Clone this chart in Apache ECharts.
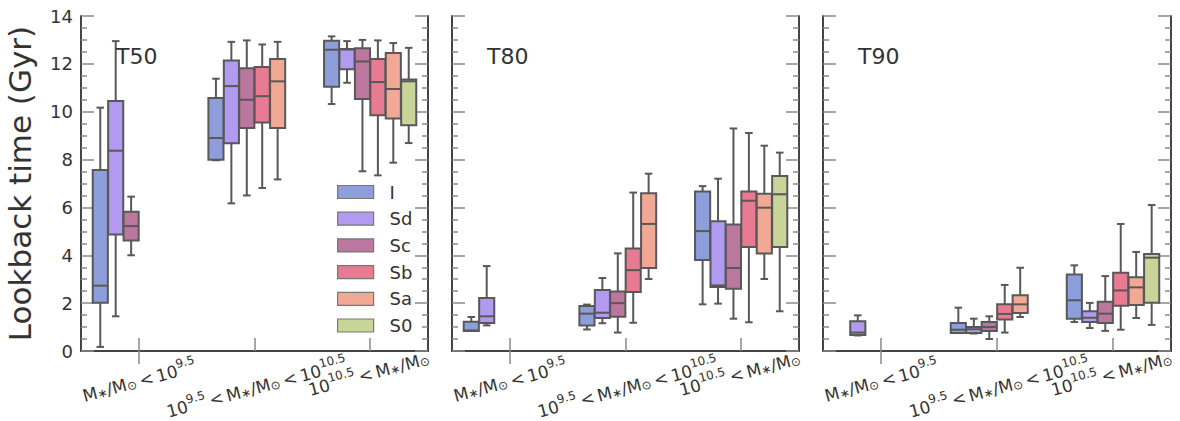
<!DOCTYPE html>
<html><head><meta charset="utf-8">
<script src="https://cdn.jsdelivr.net/npm/echarts@6/dist/echarts.min.js"></script>
<style>html,body{margin:0;padding:0;background:#fff}#c{width:1180px;height:421px}</style>
</head><body><div id="c"></div>
<script>
// ---- data ----
const categories = ['M*/Msun < 10^9.5', '10^9.5 < M*/Msun < 10^10.5', '10^10.5 < M*/Msun'];
const seriesNames = ['I', 'Sd', 'Sc', 'Sb', 'Sa', 'S0'];
const seriesColors = ['#8e9edb', '#b19af0', '#bb779e', '#e87a91', '#f1a894', '#c8d498'];
const panelTitles = ['T50', 'T80', 'T90'];
const yTicks = [0, 2, 4, 6, 8, 10, 12, 14];
// each box: [low whisker, Q1, median, Q3, high whisker]; null = no box
const T50_I  = [[0.17, 2.02, 2.73, 7.56, 10.17], [7.97, 7.99, 8.9, 10.57, 11.38], [10.32, 11.04, 12.59, 12.97, 13.15]];
const T50_Sd = [[1.45, 4.87, 8.37, 10.45, 12.95], [6.17, 8.68, 11.07, 12.14, 12.92], [11.21, 11.77, 12.6, 12.62, 12.95]];
const T50_Sc = [[4.0, 4.62, 5.22, 5.82, 6.45], [6.5, 9.32, 10.5, 11.82, 12.98], [7.51, 10.53, 12.1, 12.65, 13.0]];
const T50_Sb = [null, [6.81, 9.55, 10.65, 11.87, 12.81], [7.34, 9.85, 11.24, 12.2, 12.98]];
const T50_Sa = [null, [7.17, 9.32, 11.27, 12.2, 12.92], [7.87, 9.72, 10.95, 12.45, 12.87]];
const T50_S0 = [null, null, [8.69, 9.43, 11.27, 11.35, 12.67]];

const T80_I  = [[0.84, 0.84, 0.86, 1.22, 1.42], [0.9, 1.07, 1.56, 1.88, 1.94], [1.95, 3.8, 5.01, 6.67, 6.89]];
const T80_Sd = [[1.07, 1.17, 1.45, 2.21, 3.55], [1.16, 1.38, 1.6, 2.55, 3.05], [1.98, 2.67, 2.74, 5.42, 7.2]];
const T80_Sc = [null, [0.77, 1.43, 2.0, 2.49, 4.08], [1.35, 2.6, 3.47, 5.29, 9.3]];
const T80_Sb = [null, [1.18, 2.47, 3.38, 4.28, 6.62], [1.2, 4.35, 6.28, 6.67, 9.11]];
const T80_Sa = [null, [3.01, 3.47, 5.31, 6.59, 7.41], [3.01, 4.07, 5.99, 6.57, 8.58]];
const T80_S0 = [null, null, [1.66, 4.35, 6.55, 7.31, 8.29]];

const T90_I  = [null, [0.75, 0.75, 0.89, 1.17, 1.81], [1.21, 1.35, 2.12, 3.2, 3.58]];
const T90_Sd = [[0.65, 0.67, 0.77, 1.24, 1.49], [0.73, 0.75, 0.91, 1.0, 1.35], [0.96, 1.21, 1.39, 1.66, 2.01]];
const T90_Sc = [null, [0.5, 0.84, 1.0, 1.21, 1.45], [0.84, 1.17, 1.56, 2.06, 3.13]];
const T90_Sb = [null, [0.77, 1.32, 1.55, 1.95, 2.76], [0.89, 1.89, 2.53, 3.27, 5.31]];
const T90_Sa = [null, [1.42, 1.59, 1.95, 2.33, 3.48], [1.38, 1.92, 2.66, 3.08, 4.14]];
const T90_S0 = [null, null, [1.09, 2.02, 3.9, 4.05, 6.1]];

const panelData = [
  [T50_I, T50_Sd, T50_Sc, T50_Sb, T50_Sa, T50_S0],
  [T80_I, T80_Sd, T80_Sc, T80_Sb, T80_Sa, T80_S0],
  [T90_I, T90_Sd, T90_Sc, T90_Sb, T90_Sa, T90_S0]
];

// ---- layout / style ----
const FONT = 'DejaVu Sans';
const gridLefts = [81, 452, 823];
const gridWidths = [347, 347, 348];
const EDGE = '#585858';
const SPINE = '#444444';
const TICK = '#8a8a8a';
const TXT = '#333333';

const richLabels = [
  '{m|M}{s|∗}{m|/M}{s|⊙}{m|\u2009<\u200910}{p|9.5}',
  '{e| }\n{m|10}{p|9.5}{m|\u2009<\u2009M}{s|∗}{m|/M}{s|⊙}{m|\u2009<\u200910}{p|10.5}',
  '{m|10}{p|10.5}{m|\u2009<\u2009M}{s|∗}{m|/M}{s|⊙}\n{f| }'
];
const labelRich = {
  m: {fontSize: 17, fontFamily: FONT, color: TXT, lineHeight: 21, verticalAlign: 'bottom'},
  s: {fontSize: 12, fontFamily: FONT, color: TXT, lineHeight: 12, verticalAlign: 'bottom'},
  p: {fontSize: 12, fontFamily: FONT, color: TXT, lineHeight: 12, verticalAlign: 'top'},
  e: {fontSize: 8, lineHeight: 14},
  f: {fontSize: 8, lineHeight: 14}
};

const grids = [], xAxes = [], yAxes = [], series = [], titles = [];
for (let p = 0; p < 3; p++) {
  grids.push({left: gridLefts[p], width: gridWidths[p], top: 16, bottom: 70, containLabel: false, outerBoundsMode: 'none'});
  titles.push({text: panelTitles[p], left: gridLefts[p] + 35, top: 45, padding: 0,
    textStyle: {fontSize: 22, fontWeight: 'normal', color: TXT, fontFamily: FONT}});
  xAxes.push({
    gridIndex: p, type: 'category', data: categories, position: 'bottom',
    axisLine: {show: true, lineStyle: {color: SPINE, width: 2}},
    axisTick: {show: true, inside: true, alignWithLabel: true, length: 13, lineStyle: {color: TICK, width: 1.5}},
    axisLabel: {interval: 0, rotate: 15, align: 'center', verticalAlign: 'middle', margin: 28,
      formatter: (v, i) => richLabels[i], rich: labelRich},
    splitLine: {show: false}
  });
  xAxes.push({
    gridIndex: p, type: 'category', data: categories, position: 'top',
    axisLine: {show: true, lineStyle: {color: SPINE, width: 2}},
    axisTick: {show: true, inside: true, alignWithLabel: true, length: 13, lineStyle: {color: TICK, width: 1.5}},
    axisLabel: {show: false}, splitLine: {show: false}
  });
  const yBase = {
    gridIndex: p, type: 'value', min: yTicks[0], max: yTicks[yTicks.length - 1], interval: 2,
    axisLine: {show: true, lineStyle: {color: SPINE, width: 2}},
    axisTick: {show: true, inside: true, length: 13, lineStyle: {color: TICK, width: 1.5}},
    minorTick: {show: true, splitNumber: 4, length: 6, lineStyle: {color: TICK, width: 1.5}},
    splitLine: {show: false}, minorSplitLine: {show: false}
  };
  yAxes.push(Object.assign({}, yBase, {
    position: 'left',
    axisLabel: {show: p === 0, fontSize: 18, color: TXT, margin: 8, fontFamily: FONT},
    name: p === 0 ? 'Lookback time (Gyr)' : '', nameLocation: 'middle', nameGap: 45,
    nameTextStyle: {fontSize: 31, lineHeight: 32, color: TXT, fontFamily: FONT}
  }));
  yAxes.push(Object.assign({}, yBase, {position: 'right', axisLabel: {show: false}}));

  for (let k = 0; k < 6; k++) {
    const boxes = panelData[p][k];
    const data = [];
    boxes.forEach((b, ci) => { if (b) data.push([ci].concat(b)); });
    const color = seriesColors[k];
    series.push({
      type: 'custom', name: seriesNames[k], xAxisIndex: 2 * p, yAxisIndex: 2 * p,
      itemStyle: {color: color, borderColor: '#777', borderWidth: 1.2},
      encode: {x: 0, y: [1, 2, 3, 4, 5]},
      data: data,
      renderItem: function (params, api) {
        const cat = api.value(0);
        const band = api.size([1, 0])[0];
        const slot = band * 0.8 / 6;
        const w = slot * 0.98;
        const cx = api.coord([cat, 0])[0] + (k - 2.5) * slot;
        const Y = (d) => api.coord([cat, api.value(d)])[1];
        const lo = Y(1), q1 = Y(2), med = Y(3), q3 = Y(4), hi = Y(5);
        const ls = {stroke: EDGE, lineWidth: 2};
        return {type: 'group', children: [
          {type: 'line', shape: {x1: cx, y1: lo, x2: cx, y2: q1}, style: ls},
          {type: 'line', shape: {x1: cx, y1: q3, x2: cx, y2: hi}, style: ls},
          {type: 'line', shape: {x1: cx - w / 4, y1: lo, x2: cx + w / 4, y2: lo}, style: ls},
          {type: 'line', shape: {x1: cx - w / 4, y1: hi, x2: cx + w / 4, y2: hi}, style: ls},
          {type: 'rect', shape: {x: cx - w / 2, y: q3, width: w, height: q1 - q3},
            style: {fill: color, stroke: EDGE, lineWidth: 2}},
          {type: 'line', shape: {x1: cx - w / 2, y1: med, x2: cx + w / 2, y2: med}, style: ls}
        ]};
      }
    });
  }
}

const chart = echarts.init(document.getElementById('c'), null, {renderer: 'svg'});
chart.setOption({
  animation: false,
  backgroundColor: '#ffffff',
  textStyle: {fontFamily: FONT},
  title: titles,
  legend: {
    data: seriesNames, orient: 'vertical', left: 332, top: 178,
    itemWidth: 36, itemHeight: 13, itemGap: 8.7, icon: 'rect',
    itemStyle: {borderColor: '#777', borderWidth: 1.2},
    textStyle: {fontSize: 18, color: TXT, fontFamily: FONT, lineHeight: 18, padding: [0, 0, 0, 11]},
    selectedMode: false
  },
  grid: grids,
  xAxis: xAxes,
  yAxis: yAxes,
  series: series
});
</script>
</body></html>
